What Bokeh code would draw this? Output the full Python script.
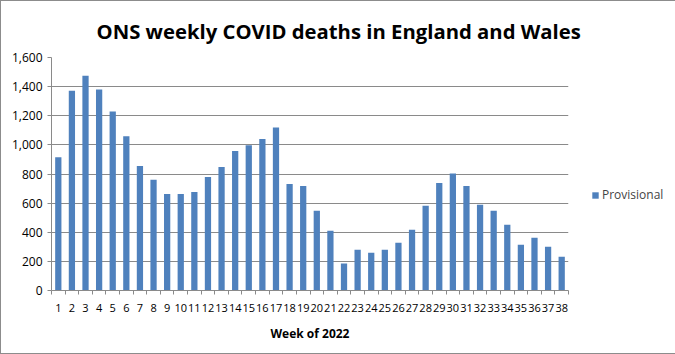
from bokeh.plotting import figure
from bokeh.models import ColumnDataSource, FixedTicker, Legend, LegendItem, NumeralTickFormatter
from bokeh.embed import file_html
from bokeh.resources import INLINE

weeks = list(range(1, 39))
week_labels = [str(w) for w in weeks]
provisional = [915, 1372, 1475, 1380, 1230, 1060, 855, 760, 663, 663, 677, 780,
               848, 958, 997, 1040, 1120, 732, 718, 548, 410, 186, 280, 260,
               280, 328, 417, 582, 738, 804, 718, 588, 547, 452, 315, 362, 300, 232]
y_ticks = [0, 200, 400, 600, 800, 1000, 1200, 1400, 1600]

FONT = "Open Sans"
GRID = "#8a8a8a"
BAR = "#4f81bd"

src = ColumnDataSource(dict(x=weeks, y=provisional))

p = figure(width=673, height=352, output_backend="svg", toolbar_location=None,
           x_range=(0.5, 38.5), y_range=(0, 1600),
           frame_width=517, frame_height=233,
           min_border_left=50, min_border_right=106, min_border_top=56, min_border_bottom=63,
           title="ONS weekly  COVID deaths in England and Wales")
p.styles = {"border": "1px solid #8c8c8c"}

p.title.align = "left"
p.title.text_font = FONT
p.title.text_font_style = "bold"
p.title.text_font_size = "20.3px"
p.title.text_color = "black"
p.title.standoff = 25
p.title.offset = 45

r = p.vbar(x="x", top="y", width=0.46, source=src, fill_color=BAR, line_color=None)

p.outline_line_color = None
p.background_fill_color = "white"
p.border_fill_color = "white"

p.xgrid.grid_line_color = None
p.ygrid.grid_line_color = GRID
p.ygrid.ticker = FixedTicker(ticks=y_ticks)

p.yaxis.ticker = FixedTicker(ticks=y_ticks)
p.yaxis.formatter = NumeralTickFormatter(format="0,0")
p.yaxis.axis_line_color = GRID
p.yaxis.major_tick_line_color = GRID
p.yaxis.major_tick_out = 4
p.yaxis.major_tick_in = 0
p.yaxis.minor_tick_line_color = None
p.yaxis.major_label_text_font = FONT
p.yaxis.major_label_text_font_size = "12px"
p.yaxis.major_label_text_color = "black"
p.yaxis.major_label_standoff = 5

p.xaxis.ticker = FixedTicker(ticks=weeks, minor_ticks=[w + 0.5 for w in [0] + weeks])
p.xaxis.major_label_overrides = {w: l for w, l in zip(weeks, week_labels)}
p.xaxis.axis_line_color = GRID
p.xaxis.major_tick_line_color = None
p.xaxis.major_tick_out = 0
p.xaxis.minor_tick_line_color = GRID
p.xaxis.minor_tick_out = 4
p.xaxis.minor_tick_in = 0
p.xaxis.major_label_text_font = FONT
p.xaxis.major_label_text_font_size = "11px"
p.xaxis.major_label_text_color = "black"
p.xaxis.major_label_standoff = 9
p.xaxis.axis_label = "Week of 2022"
p.xaxis.axis_label_text_font = FONT
p.xaxis.axis_label_text_font_size = "12px"
p.xaxis.axis_label_text_font_style = "bold"
p.xaxis.axis_label_text_color = "black"
p.xaxis.axis_label_standoff = 10

legend = Legend(items=[LegendItem(label="Provisional", renderers=[r])],
                location=(23, 87), border_line_color=None, background_fill_alpha=0,
                label_text_font=FONT, label_text_font_size="12px",
                glyph_width=8, glyph_height=8, label_standoff=3, padding=0, margin=22,
                label_height=12)
p.add_layout(legend, "right")

open("out.html", "w").write(file_html(p, INLINE))
